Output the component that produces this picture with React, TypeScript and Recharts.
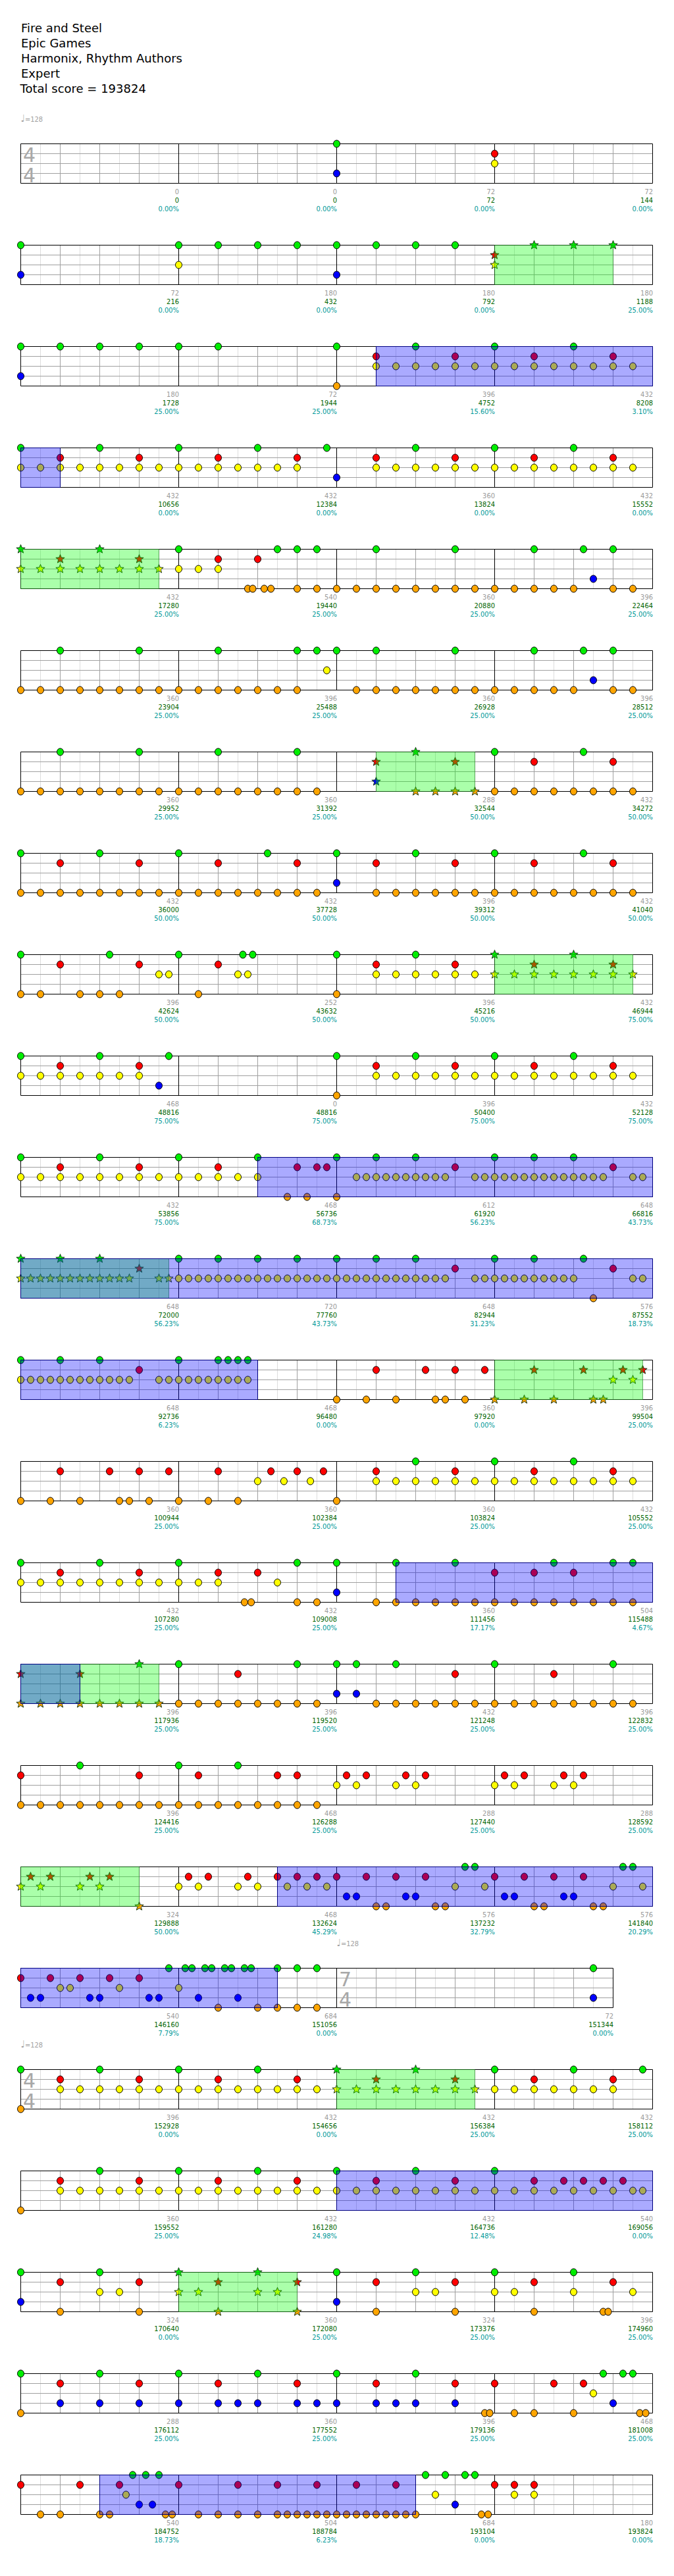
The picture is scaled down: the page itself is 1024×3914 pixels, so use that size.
import React from "react";
import { ScatterChart, Scatter, XAxis, YAxis, ReferenceLine, ReferenceArea } from "recharts";

// header
const titleLines = ["Fire and Steel", "Epic Games", "Harmonix, Rhythm Authors", "Expert"];
const totalScoreLine = "Total score = 193824";

// first measure of every staff row
const rowFirstMeasure = [1, 5, 9, 13, 17, 21, 25, 29, 33, 37, 41, 45, 49, 53, 57, 61, 65, 69, 73, 76, 80, 84, 88, 92];
const lastMeasure = 95;
const timeSignatures = [
  { measure: 1, beats: 4 },
  { measure: 75, beats: 7 },
  { measure: 76, beats: 4 },
];
const tempoMarks = [
  { measure: 1, bpm: 128 },
  { measure: 75, bpm: 128 },
  { measure: 76, bpm: 128 },
];

// per-measure labels
const measureScore = [
  0, 0, 72, 72, 72, 180, 180, 180, 180, 72, 396, 432, 432, 432, 360, 432,
  432, 540, 360, 396, 360, 396, 360, 396, 360, 360, 288, 432, 432, 432, 396, 432,
  396, 252, 396, 432, 468, 0, 396, 432, 432, 468, 612, 648, 648, 720, 648, 576,
  648, 468, 360, 396, 360, 360, 360, 432, 432, 432, 360, 504, 396, 396, 432, 396,
  396, 468, 288, 288, 324, 468, 576, 576, 540, 684, 72, 396, 432, 432, 432,
  360, 432, 432, 540, 324, 360, 324, 396, 288, 360, 396, 468, 540, 504, 684, 180,
];
const totalScore = [
  0, 0, 72, 144, 216, 432, 792, 1188, 1728, 1944, 4752, 8208, 10656, 12384, 13824, 15552,
  17280, 19440, 20880, 22464, 23904, 25488, 26928, 28512, 29952, 31392, 32544, 34272,
  36000, 37728, 39312, 41040, 42624, 43632, 45216, 46944, 48816, 48816, 50400, 52128,
  53856, 56736, 61920, 66816, 72000, 77760, 82944, 87552, 92736, 96480, 97920, 99504,
  100944, 102384, 103824, 105552, 107280, 109008, 111456, 115488, 117936, 119520, 121248, 122832,
  124416, 126288, 127440, 128592, 129888, 132624, 137232, 141840, 146160, 151056, 151344,
  152928, 154656, 156384, 158112, 159552, 161280, 164736, 169056, 170640, 172080, 173376, 174960,
  176112, 177552, 179136, 181008, 184752, 188784, 193104, 193824,
];
const percentLabel = [
  "0.00%", "0.00%", "0.00%", "0.00%", "0.00%", "0.00%", "0.00%", "25.00%",
  "25.00%", "25.00%", "15.60%", "3.10%", "0.00%", "0.00%", "0.00%", "0.00%",
  "25.00%", "25.00%", "25.00%", "25.00%", "25.00%", "25.00%", "25.00%", "25.00%",
  "25.00%", "25.00%", "50.00%", "50.00%", "50.00%", "50.00%", "50.00%", "50.00%",
  "50.00%", "50.00%", "50.00%", "75.00%", "75.00%", "75.00%", "75.00%", "75.00%",
  "75.00%", "68.73%", "56.23%", "43.73%", "56.23%", "43.73%", "31.23%", "18.73%",
  "6.23%", "0.00%", "0.00%", "25.00%", "25.00%", "25.00%", "25.00%", "25.00%",
  "25.00%", "25.00%", "17.17%", "4.67%", "25.00%", "25.00%", "25.00%", "25.00%",
  "25.00%", "25.00%", "25.00%", "25.00%", "50.00%", "45.29%", "32.79%", "20.29%",
  "7.79%", "0.00%", "0.00%", "0.00%", "0.00%", "25.00%", "25.00%",
  "25.00%", "24.98%", "12.48%", "0.00%", "0.00%", "25.00%", "25.00%", "25.00%",
  "25.00%", "25.00%", "25.00%", "25.00%", "18.73%", "6.23%", "0.00%", "0.00%",
];

// notes per row, positions in eighth notes from the row start
const row01 = { G: [16], R: [24], Y: [24], B: [16], O: [] };
const row02 = { G: [0, 8, 10, 12, 14, 16, 18, 20, 22, 26, 28, 30], R: [24], Y: [8, 24], B: [0, 16], O: [] };
const row03 = {
  G: [0, 2, 4, 6, 8, 10, 16, 20, 24, 28], R: [18, 22, 26, 30],
  Y: [18, 19, 20, 21, 22, 23, 24, 25, 26, 27, 28, 29, 30, 31], B: [0], O: [16],
};
const row04 = {
  G: [0, 4, 8, 12, 15.5, 20, 24, 28], R: [2, 6, 10, 14, 18, 22, 26, 30],
  Y: [0, 1, 2, 3, 4, 5, 6, 7, 8, 9, 10, 11, 12, 13, 14, 18, 19, 20, 21, 22, 23, 24, 25, 26, 27, 28, 29, 30, 31],
  B: [16], O: [],
};
const row05 = {
  G: [0, 4, 8, 13, 14, 15, 18, 22, 26, 28.5, 30], R: [2, 6, 10, 12],
  Y: [0, 1, 2, 3, 4, 5, 6, 7, 8, 9, 10], B: [29],
  O: [11.5, 11.75, 12.33, 12.67, 14, 15, 16, 17, 18, 19, 20, 21, 22, 23, 24, 25, 26, 27, 28, 30, 31],
};
const row06 = {
  G: [2, 6, 10, 14, 15, 16, 18, 22, 26, 28.5, 30], R: [], Y: [15.5], B: [29],
  O: [0, 1, 2, 3, 4, 5, 6, 7, 8, 9, 10, 11, 12, 13, 14, 17, 18, 19, 20, 21, 22, 23, 24, 25, 26, 27, 28, 30, 31],
};
const row07 = {
  G: [2, 6, 10, 14, 20, 24, 28.5], R: [18, 22, 26, 30], Y: [], B: [18],
  O: [0, 1, 2, 3, 4, 5, 6, 7, 8, 9, 10, 11, 12, 13, 14, 15, 20, 21, 22, 23, 24, 25, 26, 27, 28, 29, 30, 31],
};
const row08 = {
  G: [0, 4, 8, 12.5, 16, 20, 24, 28.5], R: [2, 6, 10, 14, 18, 22, 26, 30], Y: [], B: [16],
  O: [0, 1, 2, 3, 4, 5, 6, 7, 8, 9, 10, 11, 12, 13, 14, 15, 18, 19, 20, 21, 22, 23, 24, 25, 26, 27, 28, 29, 30, 31],
};
const row09 = {
  G: [0, 4.5, 8, 11.25, 11.75, 16, 20, 24, 28], R: [2, 6, 10, 18, 22, 26, 30],
  Y: [7, 7.5, 11, 11.5, 18, 19, 20, 21, 22, 23, 24, 25, 26, 27, 28, 29, 30, 31], B: [],
  O: [0, 1, 3, 4, 5, 9, 16],
};
const row10 = {
  G: [0, 4, 7.5, 16, 20, 24, 28], R: [2, 6, 18, 22, 26, 30],
  Y: [0, 1, 2, 3, 4, 5, 6, 18, 19, 20, 21, 22, 23, 24, 25, 26, 27, 28, 29, 30, 31], B: [7], O: [16],
};
const row11 = {
  G: [0, 4, 8, 12, 16, 18, 20, 24, 26, 28], R: [2, 6, 10, 14, 15, 15.5, 22, 30],
  Y: [0, 1, 2, 3, 4, 5, 6, 7, 8, 9, 10, 11, 12, 17, 17.5, 18, 18.5, 19, 19.5, 20, 20.5, 21, 21.5,
    23, 23.5, 24, 24.5, 25, 25.5, 26, 26.5, 27, 27.5, 28, 28.5, 29, 29.5, 31, 31.5],
  B: [], O: [13.5, 14.5, 16],
};
const row12 = {
  G: [0, 2, 4, 8, 10, 12, 14, 16, 18, 20, 24, 26, 28.5], R: [6, 22, 30],
  Y: [0, 0.5, 1, 1.5, 2, 2.5, 3, 3.5, 4, 4.5, 5, 5.5, 7, 7.5, 8, 8.5, 9, 9.5, 10, 10.5, 11, 11.5,
    12, 12.5, 13, 13.5, 14, 14.5, 15, 15.5, 16, 16.5, 17, 17.5, 18, 18.5, 19, 19.5, 20, 20.5, 21, 21.5,
    23, 23.5, 24, 24.5, 25, 25.5, 26, 26.5, 27, 27.5, 28, 31, 31.5],
  B: [], O: [29],
};
const row13 = {
  G: [0, 2, 4, 8, 10, 10.5, 11, 11.5], R: [6, 18, 20.5, 22, 23.5, 26, 28.5, 30.5, 31.5],
  Y: [0, 0.5, 1, 1.5, 2, 2.5, 3, 3.5, 4, 4.5, 5, 5.5, 7, 7.5, 8, 8.5, 9, 9.5, 10, 10.5, 11, 11.5, 30, 31],
  B: [], O: [16, 17.5, 19, 21, 21.5, 22.5, 24, 25.5, 27, 29, 29.5],
};
const row14 = {
  G: [20, 24, 28], R: [2, 4.5, 6, 7.5, 10, 12.67, 14, 15.33, 18, 22, 26, 30],
  Y: [12, 13.33, 14.67, 18, 19, 20, 21, 22, 23, 24, 25, 26, 27, 28, 29, 30, 31], B: [],
  O: [0, 1.5, 3, 5, 5.5, 6.5, 8, 9.5, 11, 16],
};
const row15 = {
  G: [0, 4, 8, 14, 16, 19, 22, 27, 30, 31], R: [2, 6, 10, 12, 24, 26, 28],
  Y: [0, 1, 2, 3, 4, 5, 6, 7, 8, 9, 10, 13], B: [16],
  O: [11.33, 11.67, 14, 15, 18, 19, 20, 21, 22, 23, 24, 25, 26, 27, 28, 29, 30, 31],
};
const row16 = {
  G: [6, 8, 14, 16, 17, 19, 24, 30], R: [0, 3, 11, 22, 27], Y: [], B: [16, 17],
  O: [0, 1, 2, 3, 4, 5, 6, 7, 8, 9, 10, 11, 12, 13, 14, 15, 18, 19, 20, 21, 22, 23, 24, 25, 26, 27, 28, 29, 30, 31],
};
const row17 = {
  G: [3, 8, 11], R: [0, 6, 9, 13, 14, 16.5, 17.5, 19.5, 20.5, 24.5, 25.5, 27.5, 28.5],
  Y: [16, 17, 19, 20, 24, 25, 27, 28], B: [],
  O: [0, 1, 2, 3, 4, 5, 6, 7, 8, 9, 10, 11, 12, 13, 14, 15],
};
const row18 = {
  G: [22.5, 23, 30.5, 31],
  R: [0.5, 1.5, 3.5, 4.5, 8.5, 9.5, 11.5, 13, 14, 15, 16, 17.5, 19, 20.5, 24, 25.5, 27, 28.5],
  Y: [0, 1, 3, 4, 8, 9, 11, 12, 13.5, 14.5, 15.5, 22, 23.5, 30, 31.5],
  B: [16.5, 17, 19.5, 20, 24.5, 25, 27.5, 28],
  O: [6, 18, 18.5, 21, 21.5, 26, 26.5, 29, 29.5],
};
const row19 = {
  G: [7.5, 8.33, 8.67, 9.33, 9.67, 10.33, 10.67, 11.33, 11.67, 13, 14, 15, 29],
  R: [0, 1.5, 3, 4.5, 6], Y: [2, 2.5, 5, 8],
  B: [0.5, 1, 3.5, 4, 6.5, 7, 9, 11, 29], O: [10, 12, 13, 14, 15],
};
const row20 = {
  G: [0, 4, 8, 12, 16, 20, 24, 28, 31.5], R: [2, 6, 10, 14, 18, 22, 26, 30],
  Y: [2, 3, 4, 5, 6, 7, 8, 9, 10, 11, 12, 13, 14, 15, 16, 17, 18, 19, 20, 21, 22, 23, 24, 25, 26, 27, 28, 29, 30],
  B: [], O: [0],
};
const row21 = {
  G: [4, 8, 12, 16, 20, 24], R: [2, 6, 10, 14, 18, 22, 26, 27.5, 28.5, 29.5, 30.5],
  Y: [2, 3, 4, 5, 6, 7, 8, 9, 10, 11, 12, 13, 14, 15, 16, 17, 18, 19, 20, 21, 22, 23, 24, 25, 26, 27, 28, 29, 30, 31, 31.5],
  B: [], O: [0],
};
const row22 = {
  G: [0, 4, 8, 12, 16, 20, 24, 28], R: [2, 6, 10, 14, 18, 22, 26, 30],
  Y: [4, 5, 8, 9, 12, 13, 20, 21, 24, 25, 28, 31], B: [0, 16],
  O: [2, 6, 10, 14, 18, 22, 26, 29.5, 29.75],
};
const row23 = {
  G: [0, 4, 8, 12, 16, 20, 29.5, 30.5, 31], R: [2, 6, 10, 14, 18, 22, 24, 27, 28.5], Y: [29],
  B: [2, 4, 6, 8, 10, 11, 12, 14, 15, 16, 18, 19, 20, 22, 30],
  O: [0, 23.5, 23.75, 25, 26, 28, 31.35, 31.65],
};
const row24 = {
  G: [5.67, 6.33, 7, 20.5, 21.5, 22.5, 23], R: [0, 3, 5, 8, 11, 13, 15, 17, 19, 24, 25, 26],
  Y: [5.33, 21, 25, 26], B: [6, 6.67, 22],
  O: [1, 2, 4, 4.5, 7.33, 7.67, 9, 10, 11, 12, 13, 13.5, 14, 14.5, 15, 15.5, 16, 16.5, 17, 17.5,
    18, 18.5, 19, 19.5, 20, 23.33, 23.67],
};
const rowNotes = [row01, row02, row03, row04, row05, row06, row07, row08, row09, row10, row11, row12,
  row13, row14, row15, row16, row17, row18, row19, row20, row21, row22, row23, row24];

// [row, start eighth, end eighth]
const starPhrases = [[2, 24, 30], [5, 0, 7], [7, 18, 23], [9, 24, 31], [12, 0, 7.5], [13, 24, 31.5],
  [16, 0, 7], [18, 0, 6], [20, 16, 23], [22, 8, 14]];
const overdrive = [[3, 18, 32], [4, 0, 2], [11, 12, 32], [12, 0, 32], [13, 0, 12], [15, 19, 32],
  [16, 0, 3], [18, 13, 32], [19, 0, 13], [21, 16, 32], [24, 4, 20]];

const laneY: Record<string, number> = { G: 4, R: 3, Y: 2, B: 1, O: 0 };
const laneColor: Record<string, string> = { G: "#00ee00", R: "#ff0000", Y: "#ffff00", B: "#0000ff", O: "#ffa500" };
const FONT = "'DejaVu Sans Condensed', 'DejaVu Sans', sans-serif";
const ROW_H = 154;
const FIRST_ROW_TOP = 178;
const PLOT_LEFT = 31.5;
const PLOT_TOP = 40.5;
const QW = 60;

function beatsOf(m: number) {
  let b = 4;
  for (const t of timeSignatures) if (t.measure <= m) b = t.beats;
  return b;
}

function starPoints(cx: number, cy: number) {
  const pts: string[] = [];
  for (let i = 0; i < 10; i++) {
    const r = i % 2 === 0 ? 7 : 3;
    const a = -Math.PI / 2 + (i * Math.PI) / 5;
    pts.push(`${cx + r * Math.cos(a)},${cy + r * Math.sin(a)}`);
  }
  return pts.join(" ");
}

const renderNote = (props: any) => {
  const { cx, cy, payload } = props;
  if (payload.star) {
    return <polygon points={starPoints(cx, cy)} fill={payload.fill} stroke="#1a3a1a" strokeWidth={1} />;
  }
  return <ellipse cx={cx} cy={cy} rx={5} ry={5.5} fill={payload.fill} stroke="#000" strokeWidth={1} />;
};

function StaffRow({ index }: { index: number }) {
  const rowNo = index + 1;
  const first = rowFirstMeasure[index];
  const last = index + 1 < rowFirstMeasure.length ? rowFirstMeasure[index + 1] - 1 : lastMeasure;
  const measures: { num: number; start: number; end: number }[] = [];
  let q = 0;
  for (let m = first; m <= last; m++) {
    const b = beatsOf(m);
    measures.push({ num: m, start: q, end: q + b });
    q += b;
  }
  const rowLen = q;
  const notes = rowNotes[index] as Record<string, number[]>;
  const phrases = starPhrases.filter((p) => p[0] === rowNo);
  const od = overdrive.filter((p) => p[0] === rowNo);

  const points: { x: number; y: number; fill: string; star: boolean }[] = [];
  for (const lane of ["O", "B", "Y", "R", "G"]) {
    for (const e of notes[lane]) {
      const star = phrases.some((p) => e >= p[1] - 0.01 && e <= p[2] + 0.01);
      points.push({ x: e / 2, y: laneY[lane], fill: laneColor[lane], star });
    }
  }

  const barSet = new Set<number>();
  measures.forEach((m) => { barSet.add(m.start * 2); barSet.add(m.end * 2); });
  const light: number[] = [];
  const mid: number[] = [];
  for (let e = 0; e <= rowLen * 2; e++) {
    if (barSet.has(e)) continue;
    if (e % 2 === 0) mid.push(e / 2); else light.push(e / 2);
  }
  const bars = Array.from(barSet).map((e) => e / 2);

  const TopTick = (p: any) => {
    const m = measures.find((mm) => Math.abs(mm.start - p.payload.value) < 1e-6);
    if (!m) return <g />;
    return (
      <text x={p.x + 1.5} y={33.5} fill="#8b0000" fontSize={11} fontFamily={FONT}>{m.num}</text>
    );
  };
  const BottomTick = (p: any) => {
    const m = measures.find((mm) => Math.abs(mm.end - p.payload.value) < 1e-6);
    if (!m) return <g />;
    const i = m.num - 1;
    return (
      <g fontSize={11} fontFamily={FONT} textAnchor="end">
        <text x={p.x + 0.5} y={116.5} fill="#9a9a9a">{measureScore[i]}</text>
        <text x={p.x + 0.5} y={129.5} fill="#006400">{totalScore[i]}</text>
        <text x={p.x + 0.5} y={142.5} fill="#009999">{percentLabel[i]}</text>
      </g>
    );
  };

  const sigs = timeSignatures.filter((t) => t.measure >= first && t.measure <= last);
  const tempos = tempoMarks.filter((t) => t.measure >= first && t.measure <= last);

  return (
    <div style={{ position: "absolute", left: 0, top: FIRST_ROW_TOP + index * ROW_H, width: 1024, height: ROW_H }}>
      <ScatterChart width={1024} height={ROW_H} margin={{ top: 20.5, right: 32.5, bottom: 23.5, left: 31.5 }}>
        <XAxis xAxisId="top" orientation="top" type="number" dataKey="x" domain={[0, 16]}
          ticks={measures.map((m) => m.start)} interval={0} height={20} axisLine={false} tickLine={false}
          tick={(p: any) => <TopTick {...p} />} />
        <XAxis type="number" dataKey="x" domain={[0, 16]} ticks={measures.map((m) => m.end)} interval={0}
          height={30} axisLine={false} tickLine={false} tick={(p: any) => <BottomTick {...p} />} />
        <YAxis type="number" dataKey="y" domain={[0, 4]} hide width={0} />
        {light.map((x) => <ReferenceLine key={`l${x}`} x={x} stroke="#dddddd" strokeWidth={1} />)}
        {mid.map((x) => <ReferenceLine key={`m${x}`} x={x} stroke="#a0a0a0" strokeWidth={1} />)}
        {[1, 2, 3].map((y) => (
          <ReferenceLine key={`h${y}`} segment={[{ x: 0, y }, { x: rowLen, y }]} stroke="#a0a0a0" strokeWidth={1} />
        ))}
        {bars.map((x) => <ReferenceLine key={`b${x}`} x={x} stroke="#000" strokeWidth={1} />)}
        {[0, 4].map((y) => (
          <ReferenceLine key={`k${y}`} segment={[{ x: 0, y }, { x: rowLen, y }]} stroke="#000" strokeWidth={1.2} />
        ))}
        <Scatter data={points} shape={renderNote} isAnimationActive={false} />
        {phrases.map((p, i) => (
          <ReferenceArea key={`s${i}`} x1={p[1] / 2} x2={p[2] / 2} y1={0} y2={4} fill="#00ff00"
            fillOpacity={0.333} stroke="#1f7a1f" strokeOpacity={0.6} strokeWidth={1} zIndex={700} />
        ))}
        {od.map((p, i) => (
          <ReferenceArea key={`o${i}`} x1={p[1] / 2} x2={p[2] / 2} y1={0} y2={4} fill="#0000ff"
            fillOpacity={0.333} stroke="#000080" strokeWidth={1} zIndex={710} />
        ))}
      </ScatterChart>
      <svg width={1024} height={ROW_H} style={{ position: "absolute", left: 0, top: 0, overflow: "visible", pointerEvents: "none" }}>
        {sigs.map((t) => {
          const m = measures.find((mm) => mm.num === t.measure)!;
          const x = PLOT_LEFT + m.start * QW + 13;
          return (
            <g key={`ts${t.measure}`} fill="#a8a8a8" fontSize={30} fontFamily="'DejaVu Sans', sans-serif" textAnchor="middle">
              <text x={x} y={PLOT_TOP + 27}>{t.beats}</text>
              <text x={x} y={PLOT_TOP + 58}>4</text>
            </g>
          );
        })}
        {tempos.map((t) => {
          const m = measures.find((mm) => mm.num === t.measure)!;
          const x = PLOT_LEFT + m.start * QW;
          return (
            <text key={`tp${t.measure}`} x={x} y={7} fill="#a0a0a0" fontFamily={FONT} fontSize={11}>
              <tspan fontSize={15}>♩</tspan>
              <tspan>={t.bpm}</tspan>
            </text>
          );
        })}
      </svg>
    </div>
  );
}

export default function App() {
  return (
    <div style={{ position: "absolute", left: 0, top: 0, width: 1024, height: 3914, background: "#fff" }}>
      <svg width={1024} height={160} style={{ position: "absolute", left: 0, top: 0 }}>
        <g fontFamily="'DejaVu Sans', sans-serif" fontSize={18} fill="#000">
          {titleLines.map((t, i) => (
            <text key={t} x={32} y={48.5 + i * 23.1}>{t}</text>
          ))}
          <text x={30.5} y={48.5 + 4 * 23.1}>{totalScoreLine}</text>
        </g>
      </svg>
      {rowFirstMeasure.map((_, i) => <StaffRow key={i} index={i} />)}
    </div>
  );
}
